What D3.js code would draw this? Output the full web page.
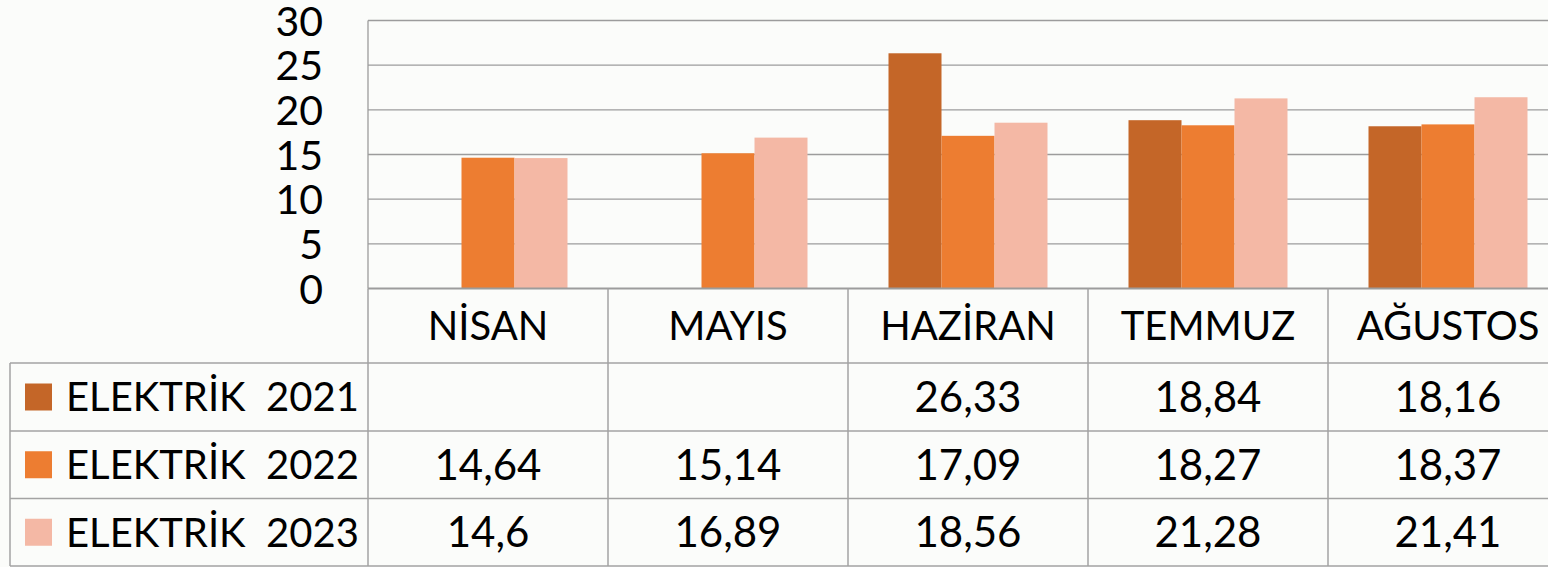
<!DOCTYPE html>
<html>
<head>
<meta charset="utf-8">
<script src="https://cdn.jsdelivr.net/npm/d3@7"></script>
<style>
  body { margin: 0; background: #fbfcfa; }
  svg { display: block; font-family: Lato, "Open Sans", sans-serif; }
</style>
</head>
<body>
<div id="chart"></div>
<script>
// chart data
var months = ["NİSAN", "MAYIS", "HAZİRAN", "TEMMUZ", "AĞUSTOS"];
var seriesNames = ["ELEKTRİK  2021", "ELEKTRİK  2022", "ELEKTRİK  2023"];
var elektrik2021 = [null, null, 26.33, 18.84, 18.16];
var elektrik2022 = [14.64, 15.14, 17.09, 18.27, 18.37];
var elektrik2023 = [14.6, 16.89, 18.56, 21.28, 21.41];
var yTicks = [0, 5, 10, 15, 20, 25, 30];

var seriesValues = [elektrik2021, elektrik2022, elektrik2023];
var colors = ["#c46628", "#ed7d31", "#f4b8a5"];

var W = 1548, H = 567;
var plotLeft = 368, plotTop = 20.5, plotBottom = 288.5;
var tableLeft = 10;
var rowLines = [363, 431, 498.5, 566];

var svg = d3.select("#chart")
  .append("svg")
  .attr("width", W)
  .attr("height", H);

svg.append("rect").attr("width", W).attr("height", H).attr("fill", "#fbfcfa");

// scales
var x = d3.scaleBand().domain(months).range([plotLeft, plotLeft + 240 * months.length]).padding(0);
var xInner = d3.scaleBand().domain(d3.range(seriesNames.length)).range([40.5, 199.5]).padding(0);
var y = d3.scaleLinear().domain([0, 30]).range([plotBottom, plotTop]);

// gridlines
svg.append("g")
  .selectAll("line")
  .data(yTicks.filter(function (d) { return d > 0; }))
  .enter()
  .append("line")
  .attr("x1", plotLeft).attr("x2", W)
  .attr("y1", function (d) { return y(d); })
  .attr("y2", function (d) { return y(d); })
  .attr("stroke", "#9c9c9c")
  .attr("stroke-width", 1.3);

svg.append("line")
  .attr("x1", plotLeft).attr("x2", plotLeft)
  .attr("y1", plotTop).attr("y2", plotBottom)
  .attr("stroke", "#9c9c9c").attr("stroke-width", 1.3);

// y axis labels
var yAxis = svg.append("g")
  .attr("transform", "translate(323,0)")
  .call(d3.axisLeft(y).tickValues(yTicks).tickSize(0).tickPadding(0));
yAxis.select(".domain").remove();
yAxis.selectAll("text")
  .attr("fill", "#000")
  .attr("dy", "0.36em")
  .style("font-size", "41px")
  .style("font-family", "Lato, sans-serif");

// bars
var groups = svg.append("g")
  .selectAll("g")
  .data(months)
  .enter()
  .append("g")
  .attr("transform", function (d) { return "translate(" + x(d) + ",0)"; });

groups.selectAll("rect")
  .data(function (d, i) {
    return seriesValues.map(function (s, k) { return { k: k, v: s[i] }; })
      .filter(function (e) { return e.v != null; });
  })
  .enter()
  .append("rect")
  .attr("x", function (d) { return xInner(d.k); })
  .attr("width", xInner.bandwidth())
  .attr("y", function (d) { return y(d.v); })
  .attr("height", function (d) { return plotBottom - y(d.v); })
  .attr("fill", function (d) { return colors[d.k]; });

// data table
var table = svg.append("g");
var lineColor = "#a3a3a3";

table.append("line")
  .attr("x1", plotLeft).attr("x2", W)
  .attr("y1", plotBottom).attr("y2", plotBottom)
  .attr("stroke", "#9c9c9c").attr("stroke-width", 2);

table.selectAll(".hline")
  .data(rowLines)
  .enter()
  .append("line")
  .attr("x1", tableLeft).attr("x2", W)
  .attr("y1", function (d) { return d; })
  .attr("y2", function (d) { return d; })
  .attr("stroke", lineColor).attr("stroke-width", 1.5);

table.append("line")
  .attr("x1", tableLeft).attr("x2", tableLeft)
  .attr("y1", rowLines[0]).attr("y2", rowLines[3])
  .attr("stroke", lineColor).attr("stroke-width", 1.5);

table.selectAll(".vline")
  .data(months)
  .enter()
  .append("line")
  .attr("x1", function (d) { return x(d); })
  .attr("x2", function (d) { return x(d); })
  .attr("y1", plotBottom).attr("y2", rowLines[3])
  .attr("stroke", lineColor).attr("stroke-width", 1.5);

// header labels
table.selectAll(".month")
  .data(months)
  .enter()
  .append("text")
  .attr("x", function (d) { return x(d) + x.bandwidth() / 2; })
  .attr("y", (plotBottom + rowLines[0]) / 2)
  .attr("dy", "0.36em")
  .attr("text-anchor", "middle")
  .style("font-size", "40px")
  .text(function (d) { return d; });

// rows
seriesNames.forEach(function (name, k) {
  var top = rowLines[k], bottom = rowLines[k + 1];
  var cy = (top + bottom) / 2;

  table.append("rect")
    .attr("x", 25).attr("y", cy - 13.5)
    .attr("width", 27).attr("height", 27)
    .attr("fill", colors[k]);

  table.append("text")
    .attr("x", 66).attr("y", cy)
    .attr("dy", "0.36em")
    .attr("xml:space", "preserve")
    .style("white-space", "pre")
    .style("font-size", "40px")
    .text(name);

  table.append("g")
    .selectAll("text")
    .data(seriesValues[k])
    .enter()
    .append("text")
    .attr("x", function (d, i) { return x(months[i]) + x.bandwidth() / 2; })
    .attr("y", cy)
    .attr("dy", "0.36em")
    .attr("text-anchor", "middle")
    .style("font-size", "42px")
    .text(function (d) { return d == null ? "" : String(d).replace(".", ","); });
});
</script>
</body>
</html>
